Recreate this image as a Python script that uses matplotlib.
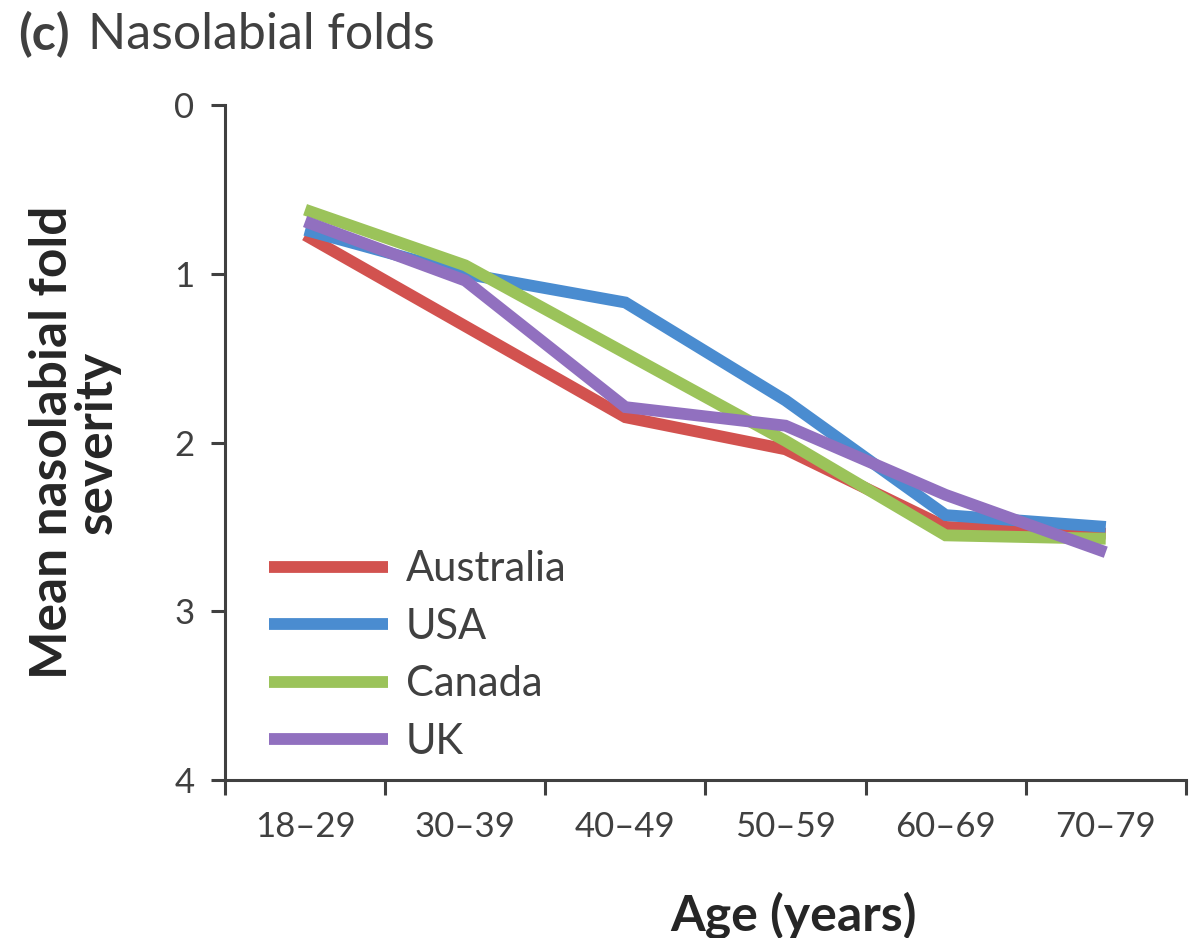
import matplotlib
matplotlib.use('Agg')
import matplotlib.pyplot as plt

plt.rcParams['font.family'] = ['Lato', 'DejaVu Sans']

AGE_GROUPS = ['18–29', '30–39', '40–49', '50–59', '60–69', '70–79']

australia = [0.77, 1.31, 1.85, 2.04, 2.50, 2.54]
usa = [0.74, 1.00, 1.17, 1.75, 2.43, 2.50]
canada = [0.62, 0.95, 1.47, 1.99, 2.55, 2.57]
uk = [0.69, 1.04, 1.79, 1.90, 2.31, 2.65]

series = [
    ('Australia', australia, '#d2524f'),
    ('USA', usa, '#4a8cd0'),
    ('Canada', canada, '#9bc35a'),
    ('UK', uk, '#9170bf'),
]

fig = plt.figure(figsize=(11.93, 9.38), dpi=100)
ax = fig.add_axes([0.1886, 0.1684, 0.8054, 0.7196])

x = list(range(len(AGE_GROUPS)))
for name, vals, col in series:
    ax.plot(x, vals, color=col, lw=8.5, label=name, solid_capstyle='butt',
            solid_joinstyle='miter')

ax.set_ylim(4, 0)
ax.set_xlim(-0.5, len(AGE_GROUPS) - 0.5)
ax.set_yticks([0, 1, 2, 3, 4])

# category labels centred, tick marks between categories (Excel style)
ax.set_xticks(x)
ax.set_xticklabels(AGE_GROUPS)
ax.set_xticks([i - 0.5 for i in range(len(AGE_GROUPS) + 1)], minor=True)
ax.tick_params(axis='x', which='major', length=0, pad=22, labelsize=25,
               labelcolor='#404040')
ax.tick_params(axis='x', which='minor', length=11, width=2.2, color='#404040',
               direction='out')
ax.tick_params(axis='y', length=10, width=2.2, color='#404040', pad=12,
               labelsize=25, labelcolor='#404040')

for side in ['top', 'right']:
    ax.spines[side].set_visible(False)
for side in ['left', 'bottom']:
    ax.spines[side].set_linewidth(2.2)
    ax.spines[side].set_color('#404040')

ax.set_xlabel('Age (years)', fontsize=36, fontweight='bold', color='#262626')
ax.xaxis.set_label_coords(0.592, -0.165)
ax.set_ylabel('Mean nasolabial fold\nseverity', fontsize=37, fontweight='bold',
              color='#262626', linespacing=0.95)
ax.yaxis.set_label_coords(-0.108, 0.5)

leg = ax.legend(loc='upper left', bbox_to_anchor=(0.007, 0.396), frameon=False,
                fontsize=30, handlelength=2.85, handletextpad=0.43,
                labelspacing=0.47)
for t in leg.get_texts():
    t.set_color('#404040')

fig.text(0.015, 0.963, '(c)', fontsize=36, fontweight='bold', color='#404040',
         va='center')
fig.text(0.074, 0.963, 'Nasolabial folds', fontsize=36, color='#404040',
         va='center')

fig.savefig('out.png', dpi=100)
